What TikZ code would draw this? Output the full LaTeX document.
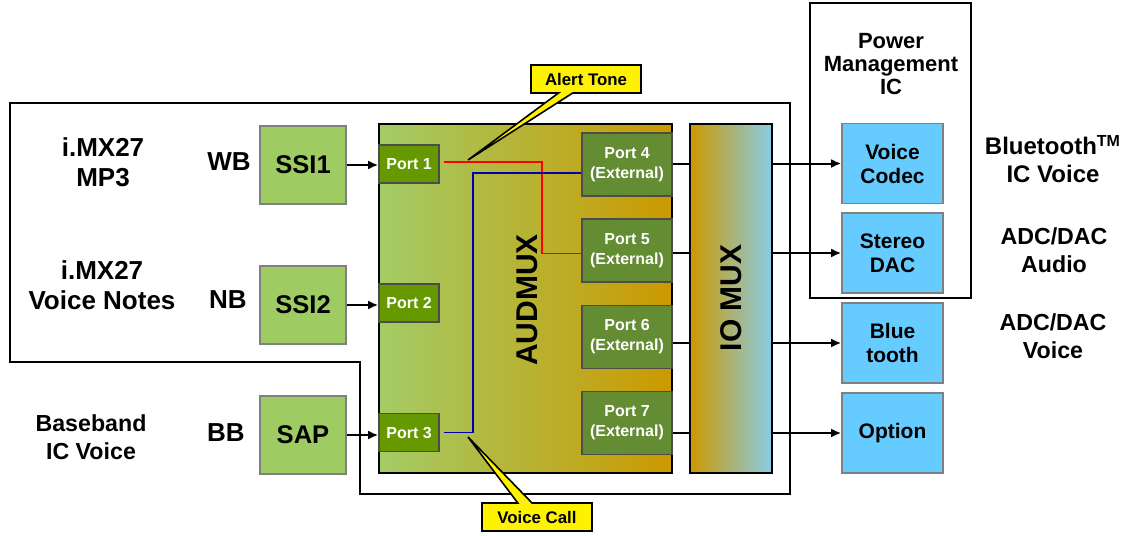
\documentclass[tikz,border=0pt]{standalone}
\usepackage{fontspec}
\setmainfont{Liberation Sans}
\usetikzlibrary{shapes.callouts,arrows.meta}

\definecolor{ssigreen}{RGB}{158,203,98}
\definecolor{portgreen}{RGB}{102,153,0}
\definecolor{extgreen}{RGB}{100,140,50}
\definecolor{muxgreen}{RGB}{163,204,102}
\definecolor{muxorange}{RGB}{204,153,0}
\definecolor{muxblue}{RGB}{136,204,232}
\definecolor{devblue}{RGB}{102,204,255}

\begin{document}
\begin{tikzpicture}[x=0.5pt,y=-0.5pt,>={Latex[length=5pt,width=4.5pt]},line width=0.8pt,
    ssi box/.style={draw=gray,fill=ssigreen,minimum width=43pt,minimum height=39pt,font=\bfseries\fontsize{12.8}{14}\selectfont},
    port/.style={draw=black!70,fill=portgreen,text=white,minimum width=30pt,minimum height=19pt,inner sep=1pt,font=\bfseries\fontsize{8}{10}\selectfont},
    ext port/.style={draw=black!70,fill=extgreen,text=white,align=center,minimum width=45pt,minimum height=31.5pt,inner sep=1pt,font=\bfseries\fontsize{8}{10}\selectfont},
    dev/.style={draw=gray,fill=devblue,align=center,minimum width=50.5pt,minimum height=40pt,inner sep=1pt,font=\bfseries\fontsize{10.5}{12}\selectfont},
    mux/.style={draw,minimum height=174.5pt,inner sep=0pt},
    mux label/.style={rotate=90,font=\bfseries\fontsize{15}{17}\selectfont},
    label/.style={align=center,font=\bfseries\fontsize{13}{15}\selectfont},
    side label/.style={align=center,font=\bfseries\fontsize{11.6}{14}\selectfont},
    link/.style={line width=1pt},
    note/.style={rectangle callout,draw,fill=yellow,minimum width=55pt,minimum height=14pt,inner sep=1pt,font=\bfseries\fontsize{8.4}{10}\selectfont}]
    \useasboundingbox (0,0) rectangle (1122,535);

    % i.MX27 outline and power management IC
    \draw (10,103) -- (790,103) -- (790,494) -- (360,494) -- (360,362) -- (10,362) -- cycle;
    \draw (810,3) rectangle (971,298);
    \node[label,font=\bfseries\fontsize{11}{11.5}\selectfont] (pmic) at (891,64) {Power\\Management\\IC};

    % sources
    \node[label] (mp3) at (103,162) {i.MX27\\MP3};
    \node[label] (notes) at (102,285) {i.MX27\\Voice Notes};
    \node[side label] (bbic) at (91,437) {Baseband\\IC Voice};
    \node[label] (wb) at (229,162) {WB};
    \node[label] (nb) at (228,300) {NB};
    \node[label] (bb) at (226,433) {BB};
    \node[ssi box] (ssi1) at (303,165) {SSI1};
    \node[ssi box] (ssi2) at (303,305) {SSI2};
    \node[ssi box] (sap) at (303,435) {SAP};

    % muxes
    \node[mux,minimum width=146.5pt,left color=muxgreen,right color=muxorange] (audmux) at (525.5,298.5) {};
    \node[mux label] at (527,300) {AUDMUX};
    \node[mux,minimum width=41pt,left color=muxorange,right color=muxblue] (iomux) at (731,298.5) {};
    \node[mux label] at (731,298) {IO MUX};

    % ports
    \node[port] (p1) at (409,164) {Port 1};
    \node[port] (p2) at (409,303) {Port 2};
    \node[port] (p3) at (409,432.5) {Port 3};
    \node[ext port] (p4) at (627,164.5) {Port 4\\(External)};
    \node[ext port] (p5) at (627,250.5) {Port 5\\(External)};
    \node[ext port] (p6) at (627,337) {Port 6\\(External)};
    \node[ext port] (p7) at (627,423) {Port 7\\(External)};

    % devices
    \node[dev] (codec) at (892.5,163.5) {Voice\\Codec};
    \node[dev] (dac) at (892.5,253) {Stereo\\DAC};
    \node[dev] (bt) at (892.5,343) {Blue\\tooth};
    \node[dev] (opt) at (892.5,433) {Option};
    \node[side label,font=\bfseries\fontsize{12}{14}\selectfont] (btic) at (1053,159) {Bluetooth\textsuperscript{TM}\\IC Voice};
    \node[side label] (audio) at (1054,250) {ADC/DAC\\Audio};
    \node[side label] (voice) at (1053,336) {ADC/DAC\\Voice};

    % connections
    \draw[link,->] (ssi1.east) -- (ssi1.east -| p1.west);
    \draw[link,->] (ssi2.east) -- (ssi2.east -| p2.west);
    \draw[link,->] (sap.east) -- (sap.east -| p3.west);
    \foreach \p/\d in {p4/codec,p5/dac,p6/bt,p7/opt}{
        \draw[link] (\p.east |- \d) -- (iomux.west |- \d);
        \draw[link,->] (iomux.east |- \d) -- (\d.west);
    }
    \draw[red,line width=0.8pt] ([xshift=2pt,yshift=1pt]p1.east) -- ++(98,0) |- ([yshift=-1.5pt]p5.west);
    \draw[blue!70!black,line width=0.8pt] ([xshift=2pt]p3.east) -- ++(29,0) |- ([yshift=-4.25pt]p4.west);

    % callouts
    \coordinate (tip1) at (468,160);
    \coordinate (tip3) at (468,437);
    \node[note,callout absolute pointer={(tip1)}] (alert) at (586,79) {Alert Tone};
    \node[note,callout absolute pointer={(tip3)}] (call) at (537,517) {Voice Call};
\end{tikzpicture}
\end{document}
